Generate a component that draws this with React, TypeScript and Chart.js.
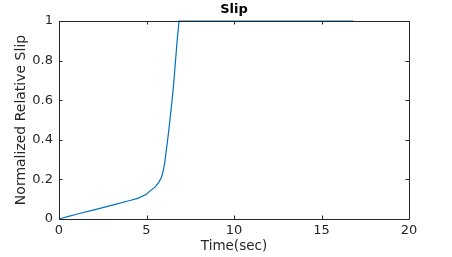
import React, { useEffect, useRef } from "react";
import { Chart, registerables } from "chart.js";

Chart.register(...registerables);

const timeValues = [0, 0.5, 1, 2, 3, 4, 4.5, 5, 5.2, 5.5, 5.7, 5.85, 5.95, 6.05, 6.15, 6.25, 6.35, 6.45, 6.55, 6.65, 6.75, 6.86, 16.8];
const slipValues = [0, 0.012, 0.024, 0.046, 0.069, 0.092, 0.104, 0.125, 0.142, 0.162, 0.185, 0.21, 0.24, 0.29, 0.36, 0.43, 0.51, 0.59, 0.68, 0.79, 0.9, 1, 1];
const xTicks = [0, 5, 10, 15, 20];
const yTicks = [0, 0.2, 0.4, 0.6, 0.8, 1];
const titleText = "Slip";
const xLabel = "Time(sec)";
const yLabel = "Normalized Relative Slip";

const AXIS_COLOR = "#262626";
const LINE_COLOR = "#0072BD";
const FONT = "'DejaVu Sans', sans-serif";

const boxPlugin = {
  id: "matlabBox",
  afterDatasetsDraw(chart: any) {
    const { ctx, chartArea } = chart;
    const { left, right, top, bottom } = chartArea;
    const xs = chart.scales.x;
    const ys = chart.scales.y;
    const tl = 3.5;
    ctx.save();
    ctx.strokeStyle = AXIS_COLOR;
    ctx.lineWidth = 1;
    ctx.beginPath();
    ctx.rect(Math.round(left) + 0.5, Math.round(top) + 0.5, Math.round(right - left), Math.round(bottom - top));
    for (const v of xTicks) {
      const px = Math.round(xs.getPixelForValue(v)) + 0.5;
      ctx.moveTo(px, bottom);
      ctx.lineTo(px, bottom - tl);
      ctx.moveTo(px, top);
      ctx.lineTo(px, top + tl);
    }
    for (const v of yTicks) {
      const py = Math.round(ys.getPixelForValue(v)) + 0.5;
      ctx.moveTo(left, py);
      ctx.lineTo(left + tl, py);
      ctx.moveTo(right, py);
      ctx.lineTo(right - tl, py);
    }
    ctx.stroke();
    ctx.restore();
  },
};

export default function App() {
  const canvasRef = useRef<HTMLCanvasElement | null>(null);

  useEffect(() => {
    const canvas = canvasRef.current;
    if (!canvas) return;
    const data = timeValues.map((t, i) => ({ x: t, y: slipValues[i] }));
    const chart = new Chart(canvas, {
      type: "line",
      data: {
        datasets: [
          {
            data,
            borderColor: LINE_COLOR,
            borderWidth: 1.2,
            pointRadius: 0,
            tension: 0,
            fill: false,
            clip: false as any,
          },
        ],
      },
      options: {
        animation: false,
        responsive: false,
        maintainAspectRatio: false,
        layout: { padding: { left: 0, right: 43, top: 0, bottom: 0 } },
        plugins: {
          legend: { display: false },
          tooltip: { enabled: false },
          title: {
            display: true,
            text: titleText,
            fullSize: false,
            color: "#000000",
            font: { family: FONT, size: 13, weight: "bold", lineHeight: 1 },
            padding: { top: 3, bottom: 5 },
          } as any,
        },
        scales: {
          x: {
            type: "linear",
            min: 0,
            max: 20,
            afterFit(scale: any) {
              scale.height = 38;
            },
            afterBuildTicks(scale: any) {
              scale.ticks = xTicks.map((v) => ({ value: v }));
            },
            grid: { display: false, drawTicks: false },
            border: { display: false },
            ticks: {
              color: AXIS_COLOR,
              font: { family: FONT, size: 13 },
              padding: 4,
              maxRotation: 0,
              callback: (v: any) => String(Number(v)),
            },
            title: {
              display: true,
              text: xLabel,
              color: AXIS_COLOR,
              font: { family: FONT, size: 13.5 },
              padding: { top: 0, bottom: 2 },
            },
          },
          y: {
            type: "linear",
            min: 0,
            max: 1,
            afterFit(scale: any) {
              scale.width = 59;
            },
            afterBuildTicks(scale: any) {
              scale.ticks = yTicks.map((v) => ({ value: v }));
            },
            grid: { display: false, drawTicks: false },
            border: { display: false },
            ticks: {
              color: AXIS_COLOR,
              font: { family: FONT, size: 13 },
              padding: 6,
              callback: (v: any) => String(Number(v)),
            },
            title: {
              display: true,
              text: yLabel,
              color: AXIS_COLOR,
              font: { family: FONT, size: 14 },
              padding: { top: 13, bottom: 0 },
            },
          },
        },
      },
      plugins: [boxPlugin],
    });
    return () => chart.destroy();
  }, []);

  return (
    <div style={{ position: "fixed", left: 0, top: 0, width: 452, height: 257, background: "#ffffff" }}>
      <canvas ref={canvasRef} width={452} height={257} style={{ width: 452, height: 257, display: "block" }} />
    </div>
  );
}
